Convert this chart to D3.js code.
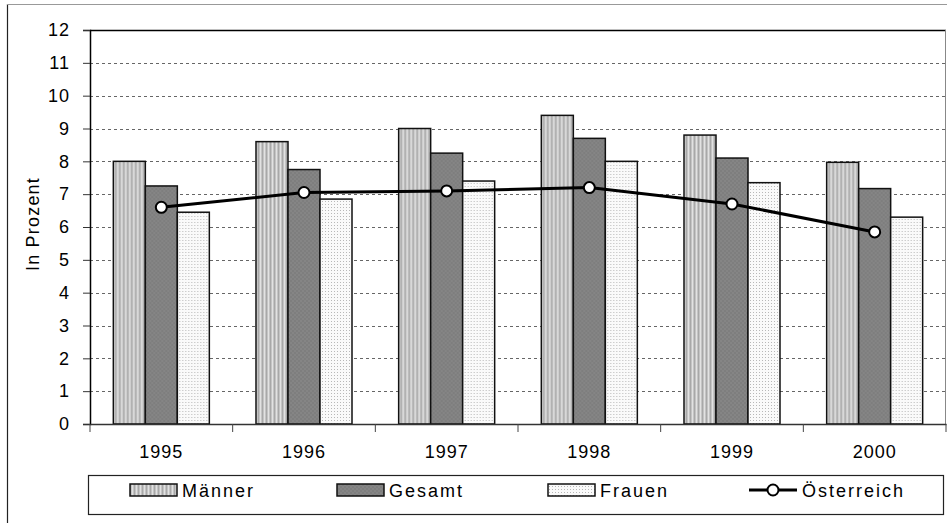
<!DOCTYPE html>
<html>
<head>
<meta charset="utf-8">
<script src="https://cdn.jsdelivr.net/npm/d3@7"></script>
<style>
  body { margin: 0; background: #fff; }
  svg { display: block; font-family: "Liberation Sans", Arial, sans-serif; }
</style>
</head>
<body>
<svg width="947" height="523"></svg>
<script>
var years = ["1995", "1996", "1997", "1998", "1999", "2000"];
var maenner = [8.0, 8.6, 9.0, 9.4, 8.8, 7.97];
var gesamt = [7.25, 7.75, 8.25, 8.7, 8.1, 7.17];
var frauen = [6.45, 6.85, 7.4, 8.0, 7.35, 6.3];
var oesterreich = [6.6, 7.05, 7.1, 7.2, 6.7, 5.85];
var yTicks = d3.range(0, 13);
var seriesNames = ["Männer", "Gesamt", "Frauen"];

var svg = d3.select("svg");
var pLeft = 90, pRight = 946, pTop = 30, pBottom = 424;
var font = "Liberation Sans, Arial, sans-serif";

// outer chart frame (left/top edges visible)
svg.append("line").attr("x1", 7.5).attr("x2", 7.5).attr("y1", 4).attr("y2", 523)
  .attr("stroke", "#222").attr("stroke-width", 1.2);
svg.append("line").attr("x1", 7).attr("x2", 947).attr("y1", 4.5).attr("y2", 4.5)
  .attr("stroke", "#999").attr("stroke-width", 1.2);

var defs = svg.append("defs");
// Männer: light grey vertical stripes
var p1 = defs.append("pattern").attr("id", "pM").attr("patternUnits", "userSpaceOnUse")
  .attr("width", 4).attr("height", 4);
p1.append("rect").attr("width", 4).attr("height", 4).attr("fill", "#c4c4c4");
p1.append("rect").attr("x", 0).attr("width", 1).attr("height", 4).attr("fill", "#e2e2e2");
p1.append("rect").attr("x", 2).attr("width", 1).attr("height", 4).attr("fill", "#a8a8a8");
// Gesamt: dark grey checker
var p2 = defs.append("pattern").attr("id", "pG").attr("patternUnits", "userSpaceOnUse")
  .attr("width", 4).attr("height", 4);
p2.append("rect").attr("width", 4).attr("height", 4).attr("fill", "#7e7e7e");
p2.append("rect").attr("width", 2).attr("height", 2).attr("fill", "#858585");
p2.append("rect").attr("x", 2).attr("y", 2).attr("width", 2).attr("height", 2).attr("fill", "#858585");
// Frauen: white with grey dots
var p3 = defs.append("pattern").attr("id", "pF").attr("patternUnits", "userSpaceOnUse")
  .attr("width", 3).attr("height", 3);
p3.append("rect").attr("width", 3).attr("height", 3).attr("fill", "#fafafa");
p3.append("rect").attr("width", 1).attr("height", 1).attr("fill", "#b8b8b8");
var fills = ["url(#pM)", "url(#pG)", "url(#pF)"];

var x = d3.scaleBand().domain(years).range([pLeft, pRight]);
var y = d3.scaleLinear().domain([0, 12]).range([pBottom, pTop]);
var xs = d3.scaleBand().domain(seriesNames).range([0, 96]);

// gridlines
svg.append("g").selectAll("line").data(yTicks.filter(function(d) { return d > 0 && d < 12; }))
  .enter().append("line")
  .attr("x1", pLeft).attr("x2", pRight)
  .attr("y1", function(d) { return Math.round(y(d)) + 0.5; })
  .attr("y2", function(d) { return Math.round(y(d)) + 0.5; })
  .attr("stroke", "#666").attr("stroke-dasharray", "3,3");

// plot frame
svg.append("line").attr("x1", pLeft).attr("x2", pRight).attr("y1", pTop + 0.5).attr("y2", pTop + 0.5)
  .attr("stroke", "#000").attr("stroke-width", 1.5);
svg.append("line").attr("x1", pRight - 0.5).attr("x2", pRight - 0.5).attr("y1", pTop).attr("y2", pBottom)
  .attr("stroke", "#888").attr("stroke-width", 1);

// bars
var data = [maenner, gesamt, frauen];
var groups = svg.append("g").selectAll("g").data(years).enter().append("g")
  .attr("transform", function(d) { return "translate(" + (x(d) + x.bandwidth() / 2 - 48) + ",0)"; });
groups.selectAll("rect").data(function(d, i) {
    return seriesNames.map(function(s, j) { return { s: s, v: data[j][i], f: fills[j] }; });
  })
  .enter().append("rect")
  .attr("x", function(d) { return xs(d.s); })
  .attr("width", xs.bandwidth())
  .attr("y", function(d) { return y(d.v); })
  .attr("height", function(d) { return pBottom - y(d.v); })
  .attr("fill", function(d) { return d.f; })
  .attr("stroke", "#111").attr("stroke-width", 1.5);

// y axis
var yAxis = svg.append("g").attr("transform", "translate(" + pLeft + ",0)")
  .call(d3.axisLeft(y).tickValues(yTicks).tickSize(7).tickPadding(13));
yAxis.select(".domain").attr("stroke", "#000").attr("stroke-width", 1.5);
yAxis.selectAll(".tick line").attr("stroke", "#333");
yAxis.selectAll("text").attr("font-size", 18).attr("fill", "#000")
  .attr("letter-spacing", 1).attr("font-family", font);

// x axis: ticks between categories
var xAxis = svg.append("g").attr("transform", "translate(0," + pBottom + ")")
  .call(d3.axisBottom(x).tickSize(0).tickPadding(21));
xAxis.select(".domain").attr("stroke", "#333").attr("stroke-width", 1.5);
xAxis.selectAll("text").attr("font-size", 18).attr("fill", "#000")
  .attr("letter-spacing", 1).attr("font-family", font);
svg.append("g").selectAll("line").data(years.slice(1).concat(["end"]))
  .enter().append("line")
  .attr("x1", function(d) { return d === "end" ? pRight : x(d); })
  .attr("x2", function(d) { return d === "end" ? pRight : x(d); })
  .attr("y1", pBottom).attr("y2", pBottom + 8).attr("stroke", "#444");
svg.append("line").attr("x1", pLeft).attr("x2", pLeft).attr("y1", pBottom).attr("y2", pBottom + 8)
  .attr("stroke", "#444");

// y label
svg.append("text").attr("transform", "translate(39,224) rotate(-90)")
  .attr("text-anchor", "middle").attr("font-size", 18).attr("letter-spacing", 1.2)
  .text("In Prozent");

// Österreich line
var line = d3.line()
  .x(function(d, i) { return x(years[i]) + x.bandwidth() / 2; })
  .y(function(d) { return y(d); });
svg.append("path").datum(oesterreich).attr("d", line)
  .attr("fill", "none").attr("stroke", "#000").attr("stroke-width", 3);
svg.append("g").selectAll("circle").data(oesterreich).enter().append("circle")
  .attr("cx", function(d, i) { return x(years[i]) + x.bandwidth() / 2; })
  .attr("cy", function(d) { return y(d); })
  .attr("r", 5.5).attr("fill", "#fff").attr("stroke", "#000").attr("stroke-width", 2);

// legend
var lg = svg.append("g");
lg.append("rect").attr("x", 88.5).attr("y", 475.5).attr("width", 855).attr("height", 39)
  .attr("fill", "#fff").attr("stroke", "#222").attr("stroke-width", 1.2);
var legendX = [130, 337, 548];
seriesNames.forEach(function(s, j) {
  lg.append("rect").attr("x", legendX[j]).attr("y", 484).attr("width", 47).attr("height", 12)
    .attr("fill", fills[j]).attr("stroke", "#111").attr("stroke-width", 1.5);
  lg.append("text").attr("x", legendX[j] + 52).attr("y", 497).attr("font-size", 18)
    .attr("letter-spacing", 2).text(s);
});
lg.append("line").attr("x1", 749).attr("x2", 797).attr("y1", 490).attr("y2", 490)
  .attr("stroke", "#000").attr("stroke-width", 3);
lg.append("circle").attr("cx", 773).attr("cy", 490).attr("r", 5.5)
  .attr("fill", "#fff").attr("stroke", "#000").attr("stroke-width", 2);
lg.append("text").attr("x", 802).attr("y", 497).attr("font-size", 18)
  .attr("letter-spacing", 2).text("Österreich");
</script>
</body>
</html>
